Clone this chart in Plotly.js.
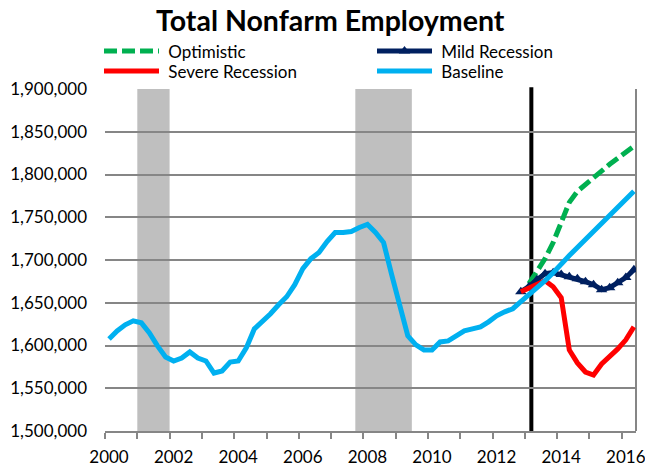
<!DOCTYPE html>
<html><head><meta charset="utf-8">
<script src="https://cdn.plot.ly/plotly-3.0.1.min.js"></script>
<style>html,body{margin:0;padding:0;background:#fff}#chart{width:645px;height:468px}</style>
</head><body><div id="chart"></div>
<script>
// Quarterly data, first quarter 2000Q1
const startYear = 2000;
const baseline = [1607700, 1617100, 1624200, 1628900, 1626500, 1614800, 1599500, 1586600,
  1581900, 1585400, 1592500, 1585400, 1581900, 1567800, 1570200, 1580700,
  1581900, 1597200, 1619500, 1627700, 1637100, 1647700, 1657000, 1671100,
  1689900, 1701600, 1708700, 1721600, 1732200, 1732200, 1733300, 1738000,
  1741500, 1732200, 1720400, 1682900, 1647700, 1611300, 1600700, 1594800,
  1594800, 1604200, 1605400, 1611300, 1617100, 1619500, 1621800, 1627700,
  1634700, 1639400, 1643000, 1651200, 1659400, 1666400, 1675800, 1685200,
  1695800, 1705200, 1714600, 1724000, 1732200, 1741500, 1752100, 1761500,
  1770900, 1780300];
// Scenario series (quarter index where they start)
const mildStartIndex = 51;
const mild = [1662900, 1668800, 1677000, 1684000, 1685200, 1682900, 1680500, 1678200,
  1674600, 1671100, 1665300, 1667600, 1673500, 1679400, 1688700];
const severeStartIndex = 51;
const severe = [1662900, 1667600, 1672300, 1675800, 1668800, 1655900, 1594800, 1579600,
  1569000, 1565500, 1578400, 1586600, 1596000, 1606600, 1621800];
const optimisticStartIndex = 52;
const optimistic = [1672300, 1686400, 1701600, 1720400, 1743900, 1767400, 1780300, 1788500,
  1795500, 1803800, 1812000, 1819000, 1826100, 1833100];

const recessionStarts = [2001.0, 2007.75];
const recessionEnds = [2002.0, 2009.5];
const forecastStart = 2013.2;

const tickYears = [2000,2001,2002,2003,2004,2005,2006,2007,2008,2009,2010,2011,2012,2013,2014,2015,2016];
const tickLabels = ['2000','','2002','','2004','','2006','','2008','','2010','','2012','','2014','','2016'];

// quarter mid-points (decimal years)
const quarters = baseline.map((_, i) => startYear + 0.125 + i * 0.25);

const FONT = 'Lato, "Open Sans", sans-serif';
const traces = [
  {name:' Optimistic', legend:'legend', x: quarters.slice(optimisticStartIndex, optimisticStartIndex + optimistic.length), y: optimistic,
   mode:'lines', line:{color:'#00B050', width:5, dash:'13px,5px'}},
  {name:' Mild Recession', legend:'legend', x: quarters.slice(mildStartIndex, mildStartIndex + mild.length), y: mild,
   mode:'lines+markers', line:{color:'#002060', width:5}, marker:{symbol:'triangle-up', size:10, color:'#002060'}},
  {name:' Severe Recession', legend:'legend2', x: quarters.slice(severeStartIndex, severeStartIndex + severe.length), y: severe,
   mode:'lines', line:{color:'#FF0000', width:5}},
  {name:' Baseline', legend:'legend2', x: quarters, y: baseline,
   mode:'lines', line:{color:'#00B0F0', width:5}}
];

const shapes = [];
for (let k = 0; k < recessionStarts.length; k++) {
  shapes.push({type:'rect', xref:'x', yref:'paper', x0: recessionStarts[k], x1: recessionEnds[k], y0:0, y1:1,
    fillcolor:'#BFBFBF', line:{width:0}, layer:'between'});
}
shapes.push({type:'line', xref:'x', yref:'paper', x0: forecastStart, x1: forecastStart, y0:0, y1:1.005,
  line:{color:'#000000', width:4}, layer:'between'});
shapes.push({type:'line', xref:'paper', yref:'paper', x0:1, x1:1, y0:0, y1:1,
  line:{color:'#868686', width:2}, layer:'between'});

const legendCommon = {orientation:'h', x:-0.01, xanchor:'left', yanchor:'top',
  entrywidth:203, entrywidthmode:'pixels', itemwidth:55, font:{family:FONT, size:17},
  bgcolor:'rgba(0,0,0,0)', traceorder:'normal'};

const layout = {
  width:645, height:468,
  paper_bgcolor:'#ffffff', plot_bgcolor:'#ffffff',
  font:{family:FONT, size:17, color:'#000000'},
  margin:{l:105, r:9, t:89, b:37, pad:0},
  title:{text:'<b>Total Nonfarm Employment</b>', font:{family:FONT, size:28.5, color:'#000000'},
    x:0.512, xanchor:'center', xref:'container', y:0.955, yanchor:'middle', yref:'container'},
  showlegend:true,
  legend:Object.assign({}, legendCommon, {y:1.1626}),
  legend2:Object.assign({}, legendCommon, {y:1.104}),
  xaxis:{range:[2000, 2016.44], tickmode:'array', tickvals:tickYears, ticktext:tickLabels,
    ticks:'outside', ticklen:6, tickwidth:2, tickcolor:'#868686',
    showline:true, linecolor:'#868686', linewidth:2, showgrid:false, zeroline:false,
    ticklabelshift:4, ticklabelstandoff:4, ticklabeloverflow:'allow', fixedrange:true},
  xaxis2:{overlaying:'x', anchor:'y', side:'bottom', range:[2000, 2016.44], tickmode:'array', tickvals:tickYears,
    ticks:'inside', ticklen:6, tickwidth:2, tickcolor:'#868686', showticklabels:false,
    showline:false, showgrid:false, zeroline:false, fixedrange:true},
  yaxis:{range:[1500000, 1900000], dtick:50000, tick0:1500000, tickformat:',d',
    showgrid:true, gridcolor:'#868686', gridwidth:2, zeroline:false, showline:false,
    ticks:'', ticklabelstandoff:17, fixedrange:true},
  shapes: shapes
};

Plotly.newPlot('chart', traces, layout, {displayModeBar:false, staticPlot:true});
</script>
</body></html>
